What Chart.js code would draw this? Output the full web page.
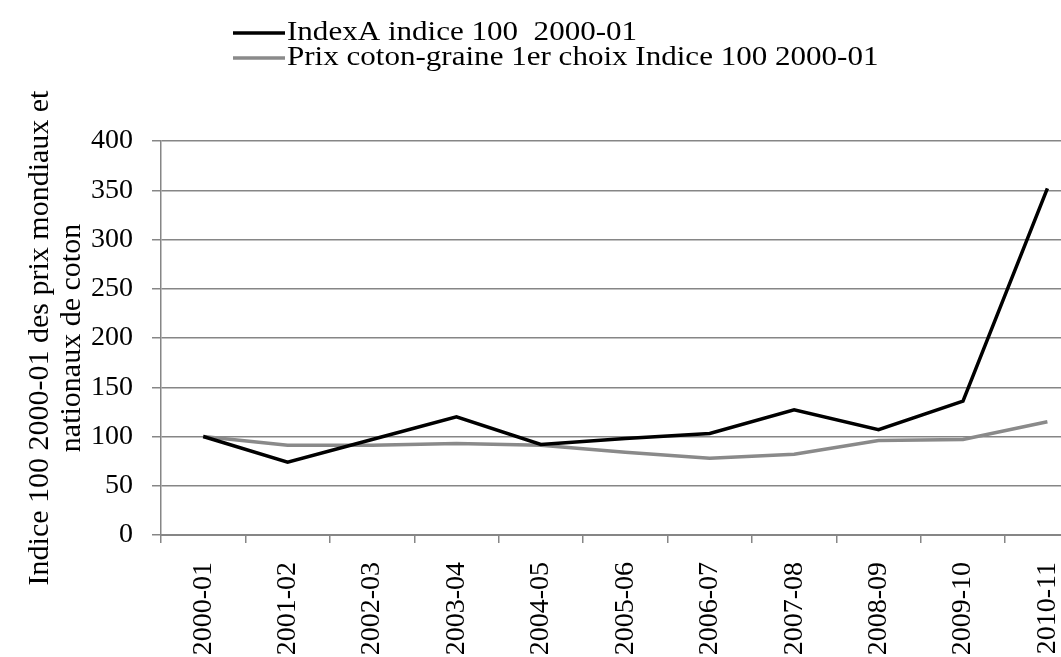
<!DOCTYPE html>
<html>
<head>
<meta charset="utf-8">
<script src="https://cdn.jsdelivr.net/npm/chart.js@4"></script>
<style>
  html, body { margin: 0; padding: 0; background: #fff; overflow: hidden; }
  #wrap { width: 1100px; height: 657px; }
</style>
</head>
<body>
<div id="wrap"><canvas id="graphique" width="1100" height="657"></canvas></div>
<script>
// données
const categories = ['2000-01', '2001-02', '2002-03', '2003-04', '2004-05', '2005-06',
                    '2006-07', '2007-08', '2008-09', '2009-10', '2010-11'];
const indexA = [100, 74, 97, 120, 92, 98, 103, 127, 107, 136, 352];
const prixCoton = [100, 91, 91, 93, 91, 84, 78, 82, 96, 97, 115];
const labelIndexA = 'IndexA indice 100  2000-01';
const labelPrix = 'Prix coton-graine 1er choix Indice 100 2000-01';
const titreY = ['Indice 100 2000-01 des prix mondiaux et', 'nationaux de coton'];
const yMin = 0, yMax = 400, yPas = 50;

const police = '"Liberation Serif", "Times New Roman", serif';
const gris = '#868686';

// légende dessinée à la main (deux lignes empilées comme sur l'original)
const legende = {
  id: 'legende',
  afterDraw(chart) {
    const ctx = chart.ctx;
    ctx.save();
    chart.data.datasets.forEach((ds, i) => {
      const y = 33 + i * 25;
      ctx.strokeStyle = ds.borderColor;
      ctx.lineWidth = 3.5;
      ctx.beginPath();
      ctx.moveTo(233, y);
      ctx.lineTo(285, y);
      ctx.stroke();
      // texte un peu élargi, comme sur l'image d'origine
      ctx.save();
      ctx.translate(287, y);
      ctx.scale(1.15, 1);
      ctx.fillStyle = '#000';
      ctx.font = '27px ' + police;
      ctx.textBaseline = 'middle';
      ctx.fillText(ds.label, 0, 0);
      ctx.restore();
    });
    ctx.restore();
  }
};

const ctx = document.getElementById('graphique').getContext('2d');
new Chart(ctx, {
  type: 'line',
  data: {
    labels: categories,
    datasets: [
      {
        label: labelIndexA,
        data: indexA,
        borderColor: '#000000',
        borderWidth: 3.5,
        pointRadius: 0,
        tension: 0
      },
      {
        label: labelPrix,
        data: prixCoton,
        borderColor: '#8a8a8a',
        borderWidth: 3.5,
        pointRadius: 0,
        tension: 0
      }
    ]
  },
  options: {
    responsive: false,
    animation: false,
    devicePixelRatio: 1,
    layout: { padding: { top: 141, right: 0, left: 0, bottom: 0 } },
    plugins: {
      legend: { display: false },
      tooltip: { enabled: false }
    },
    scales: {
      x: {
        offset: true,
        grid: { offset: true, drawOnChartArea: false, drawTicks: true, tickLength: 8, color: gris, lineWidth: 1.5 },
        border: { color: gris, width: 2 },
        ticks: {
          color: '#000',
          font: { family: police, size: 28 },
          minRotation: 90,
          maxRotation: 90,
          padding: 19,
          autoSkip: false
        },
        afterFit: (s) => { s.height = 122; }
      },
      y: {
        min: yMin,
        max: yMax,
        grid: { color: gris, lineWidth: 1.5, tickLength: 9 },
        border: { color: gris, width: 1.5 },
        ticks: {
          stepSize: yPas,
          color: '#000',
          font: { family: police, size: 28 },
          padding: 19
        },
        title: {
          display: true,
          text: titreY,
          color: '#000',
          font: { family: police, size: 30, lineHeight: 32 / 30 },
          padding: { top: 24, bottom: 0 }
        },
        afterFit: (s) => { s.width = 161; }
      }
    }
  },
  plugins: [legende]
});
</script>
</body>
</html>
